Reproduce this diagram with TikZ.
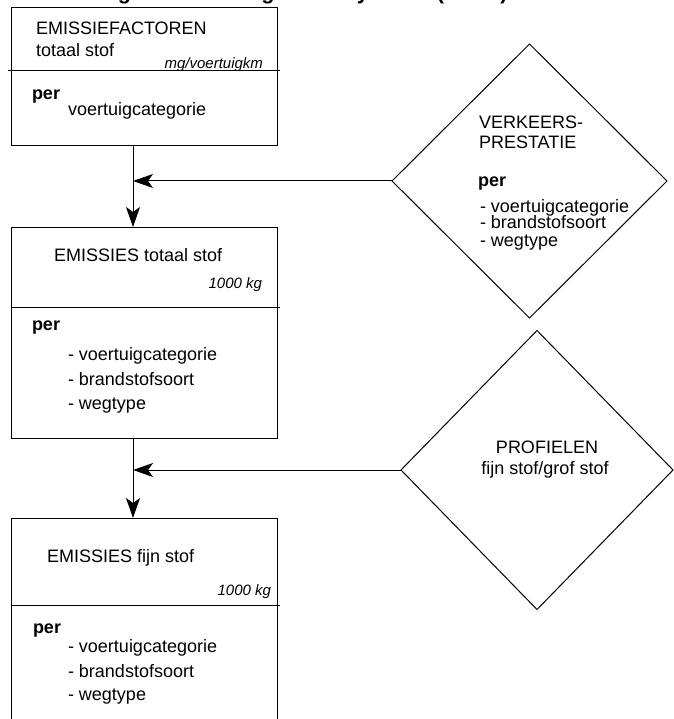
\documentclass[tikz,border=0pt]{standalone}
\usepackage{fontspec}
\setmainfont{Liberation Sans}
\usetikzlibrary{shapes.geometric}
\usetikzlibrary{arrows.meta}

\begin{document}
\begin{tikzpicture}[x=1pt, y=-1pt,
    every node/.style={inner sep=0pt, outer sep=0pt},
    txt/.style={font=\fontsize{18}{21}\selectfont, anchor=base west},
    unit/.style={font=\itshape\fontsize{15}{18}\selectfont, anchor=base east},
    blok/.style={draw, line width=1pt, rectangle, anchor=north west, minimum width=266pt},
    ruit/.style={draw, line width=1pt, diamond},
    flow/.style={line width=1pt, -{Stealth[length=20pt,width=14pt,inset=5pt]}}]

        \useasboundingbox (0,0) rectangle (673,719);

        % title, only its lowest part is on the page
        \node[anchor=base west, font=\bfseries\fontsize{21.5}{26}\selectfont] (title) at (14,-0.5)
            {Berekeningen emissieregistratiesysteem (PM10)};

        \begin{scope}[every node/.append style={fill=white}]
                \node[blok, minimum height=138pt] (b1) at (11,8) {};
                \node[blok, minimum height=211pt] (b2) at (11,227) {};
                \node[blok, minimum height=240pt] (b3) at (11,518) {};
                \node[ruit, minimum width=275pt, minimum height=274pt] (d1) at (529.5,181) {};
                \node[ruit, minimum width=272pt, minimum height=279pt] (d2) at (537,470) {};
        \end{scope}

        \draw[line width=1pt] (8,71) -- (280,71);
        \draw[line width=1pt] (11,307) -- (280,307);
        \draw[line width=1pt] (11,605) -- (280,605);

        % emissiefactoren
        \node[txt] (f1) at (36,35) {EMISSIEFACTOREN};
        \node[txt] (f2) at (36,57) {totaal stof};
        \node[unit] (f3) at (263,69) {mg/voertuigkm};
        \node[txt] (f4) at (32,100) {\textbf{per}};
        \node[txt] (f5) at (68,116) {voertuigcategorie};

        % emissies totaal stof
        \node[txt] (t1) at (54,261) {EMISSIES totaal stof};
        \node[unit] (t2) at (262,288) {1000 kg};
        \node[txt] (t3) at (32,330) {\textbf{per}};
        \foreach \w/\y in {voertuigcategorie/360, brandstofsoort/385, wegtype/409}
                \node[txt] (t\w) at (68,\y) {- \w};

        % emissies fijn stof
        \node[txt] (e1) at (47,562) {EMISSIES fijn stof};
        \node[unit] (e2) at (271,595) {1000 kg};
        \node[txt] (e3) at (33,633) {\textbf{per}};
        \foreach \w/\y in {voertuigcategorie/652, brandstofsoort/677, wegtype/700}
                \node[txt] (e\w) at (68,\y) {- \w};

        % verkeersprestatie
        \node[txt] (v1) at (479,129) {VERKEERS-};
        \node[txt] (v2) at (479,149) {PRESTATIE};
        \node[txt] (v3) at (478,187) {\textbf{per}};
        \foreach \w/\y in {voertuigcategorie/212, brandstofsoort/228, wegtype/246}
                \node[txt] (v\w) at (480,\y) {- \w};

        % profielen
        \node[txt, anchor=base] (p1) at (547,453) {PROFIELEN};
        \node[txt, anchor=base] (p2) at (545,474) {fijn stof/grof stof};

        \coordinate (k1) at (133,183);
        \coordinate (k2) at (133,475);

        \draw[flow] (b1.south -| k1) -- (b2.north -| k1);
        \draw[flow] (d1.west) -- (d1.west -| k1);
        \draw[flow] (b2.south -| k2) -- (b3.north -| k2);
        \draw[flow] (d2.west) -- (d2.west -| k2);

\end{tikzpicture}
\end{document}
